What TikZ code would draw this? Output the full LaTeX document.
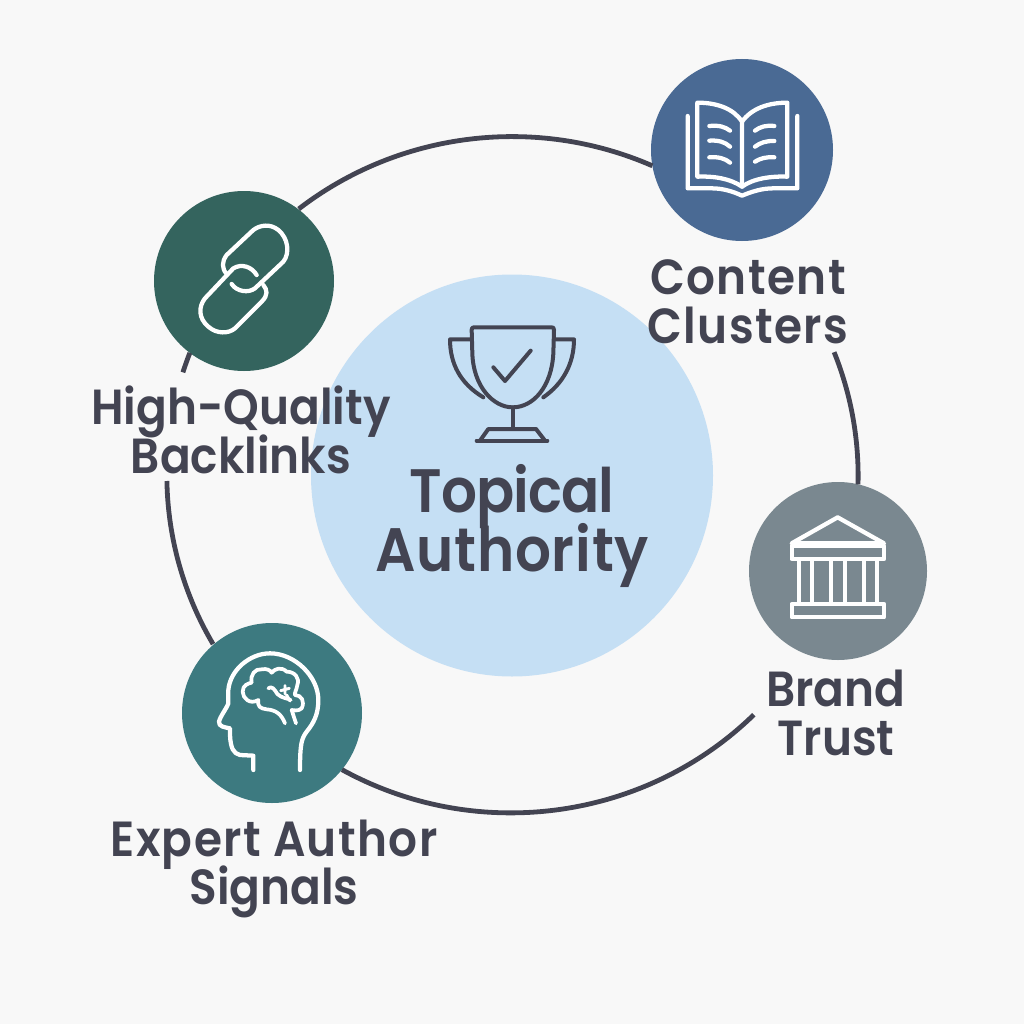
\documentclass[tikz,border=0pt]{standalone}
\usepackage{fontspec}
\setmainfont{Poppins}[BoldFont={Poppins SemiBold},FakeStretch=0.92]
\newcommand{\spaced}[2]{{\addfontfeature{LetterSpace=#1}#2}}
\AtBeginDocument{\lineskiplimit=-100pt\relax}
\definecolor{bgc}{HTML}{F8F8F8}
\definecolor{ink}{HTML}{434452}
\definecolor{bluec}{HTML}{4A6A94}
\definecolor{greenc}{HTML}{34645E}
\definecolor{tealc}{HTML}{3D7A80}
\definecolor{greyc}{HTML}{7A8890}
\definecolor{corec}{HTML}{C5DFF4}
\tikzset{
  disc/.style={circle,inner sep=0pt,outer sep=0pt,minimum size=#1*1.5pt},
  ring/.style={draw=ink,line width=3.6pt},
  lbl/.style={font=\fontsize{37}{#1}\selectfont\bfseries,text=ink,align=center,inner sep=0pt},
  corelbl/.style={font=\fontsize{46}{44.25}\selectfont\bfseries,text=ink,align=center,inner sep=0pt},
  icon/.style={draw=white,line width=3.2pt,line cap=round,line join=round},
  darkicon/.style={draw=ink,line width=3pt,line cap=round,line join=round},
  zoomed/.style={x=.25pt,y=-.25pt}
}
\begin{document}
\begin{tikzpicture}[x=.75pt,y=-.75pt]
\fill[bgc] (0,0) rectangle (1024,1024);
\useasboundingbox (0,0) rectangle (1024,1024);
\node[disc=201,fill=corec] (core) at (512,475.5) {};
\node[disc=91,fill=bluec] (blue) at (742,150) {};
\node[disc=90,fill=greenc] (green) at (244,281) {};
\node[disc=90,fill=tealc] (teal) at (272,713) {};
\node[disc=89,fill=greyc] (grey) at (838,571) {};
\node[lbl=36.5] (lc) at (748,301.5) {\spaced{2.8}{Content}\\\spaced{2.8}{Clusters}};
\node[lbl=36.75] (lb) at (241,430) {High-Quality\\Backlinks};
\node[lbl=36.5] (le) at (274,869) {\spaced{2.8}{Expert Author}\\Signals};
\node[lbl=36.75] (lt) at (836,713) {Brand\\Trust};
\node[corelbl] (lk) at (512,525.5) {\spaced{-1.4}{Topical}\\\spaced{1.3}{Authority}};
\coordinate (c3) at (166.9,481);
\draw[ring] (blue.190) arc[start angle=66,end angle=128.2,x radius=258.75pt,y radius=253.5pt];
\draw[ring] (green.233.5) arc[start angle=159,end angle=162.5,x radius=258.75pt,y radius=253.5pt];
\draw[ring] (c3) arc[start angle=181,end angle=210,x radius=258.75pt,y radius=253.5pt];
\draw[ring] (teal.321.3) arc[start angle=240.7,end angle=314.8,x radius=258.75pt,y radius=253.5pt];
\draw[ring] (grey.77.8) arc[start angle=-1.4,end angle=21.5,x radius=258.75pt,y radius=253.5pt];
% book
\begin{scope}[shift={(640,50)},zoomed]
\draw[icon] (306,215) .. controls (280,175) and (230,158) .. (172,158) -- (172,380) .. controls (220,378) and (270,385) .. (306,410) -- cycle;
\draw[icon] (306,215) .. controls (335,175) and (385,158) .. (442,158) -- (442,380) .. controls (395,378) and (340,385) .. (306,410);
\draw[icon] (143,198) -- (143,415) -- (215,415) .. controls (250,415) and (280,425) .. (306,437) .. controls (335,425) and (365,415) .. (400,415) -- (472,415) -- (472,198);
\draw[icon] (208,228) .. controls (235,225) and (255,230) .. (270,242);
\draw[icon] (208,272) .. controls (235,270) and (255,276) .. (270,290);
\draw[icon] (208,322) .. controls (235,320) and (255,325) .. (270,338);
\draw[icon] (345,242) .. controls (360,230) and (380,225) .. (403,228);
\draw[icon] (345,290) .. controls (360,278) and (380,272) .. (403,273);
\draw[icon] (345,335) .. controls (360,325) and (380,320) .. (403,322);
\end{scope}
% chain
\begin{scope}[shift={(140,180)},zoomed]
\draw[icon] (275,312) .. controls (290,335) and (325,340) .. (345,325) -- (430,245) .. controls (450,220) and (445,175) .. (415,150) .. controls (390,130) and (360,135) .. (340,150) -- (260,225) .. controls (245,245) and (245,265) .. (260,282);
\draw[icon] (350,285) .. controls (335,260) and (305,250) .. (280,265) -- (195,355) .. controls (175,380) and (175,415) .. (205,440) .. controls (230,462) and (265,462) .. (285,445) -- (365,365) .. controls (385,345) and (382,330) .. (370,315);
\end{scope}
% head
\begin{scope}[shift={(170,620)},zoomed]
\draw[icon] (250,450) -- (250,407) -- (210,405) .. controls (190,400) and (182,385) .. (180,345) -- (180,325) .. controls (165,322) and (145,320) .. (147,305) .. controls (150,290) and (170,265) .. (175,250) -- (175,210) .. controls (180,150) and (240,100) .. (300,100) .. controls (375,100) and (445,170) .. (445,240) .. controls (445,285) and (430,310) .. (410,335) .. controls (395,355) and (390,370) .. (390,450);
\draw[icon,line width=2.8pt] (345,310) .. controls (335,285) and (320,270) .. (290,268) .. controls (270,265) and (262,260) .. (265,240) .. controls (240,255) and (218,235) .. (218,215) .. controls (218,195) and (235,190) .. (245,188) .. controls (240,165) and (255,145) .. (275,148) .. controls (290,145) and (300,150) .. (305,158) .. controls (315,145) and (335,140) .. (350,155) .. controls (375,155) and (390,175) .. (382,195) .. controls (380,210) and (372,220) .. (375,225) .. controls (395,225) and (405,245) .. (395,265) .. controls (385,275) and (370,270) .. (365,270) -- (378,310);
\draw[icon,line width=2.8pt] (295,205) .. controls (305,195) and (315,210) .. (322,222) .. controls (335,235) and (355,235) .. (362,240);
\draw[icon,line width=2.2pt] (345,197) -- (345,222) (332,212) -- (358,205) (350,225) -- (360,243);
\end{scope}
% building
\begin{scope}[shift={(740,480)},zoomed]
\draw[icon] (155,190) -- (293,112) -- (432,190) -- cycle;
\draw[icon] (155,197) rectangle (432,237);
\draw[icon] (155,372) rectangle (432,412);
\foreach \cx in {177,216,273,315,371,410} \draw[icon,line cap=butt] (\cx,240) -- (\cx,370);
\end{scope}
% trophy
\begin{scope}[shift={(430,310)},zoomed]
\draw[darkicon] (127,130) -- (125,60) .. controls (125,54) and (127,52) .. (132,52) -- (365,52) .. controls (370,52) and (372,54) .. (372,60) -- (370,130) .. controls (365,230) and (310,292) .. (248,292) .. controls (190,292) and (130,230) .. (127,130);
\draw[darkicon] (125,88) -- (60,88) .. controls (60,160) and (90,220) .. (160,262);
\draw[darkicon] (372,88) -- (432,88) .. controls (432,160) and (400,220) .. (340,262);
\draw[darkicon] (248,292) -- (248,355);
\draw[darkicon] (140,392) -- (352,392);
\draw[darkicon] (150,392) -- (175,357) -- (318,357) -- (345,392);
\draw[darkicon] (190,172) -- (225,213) -- (302,122);
\end{scope}
\end{tikzpicture}
\end{document}
